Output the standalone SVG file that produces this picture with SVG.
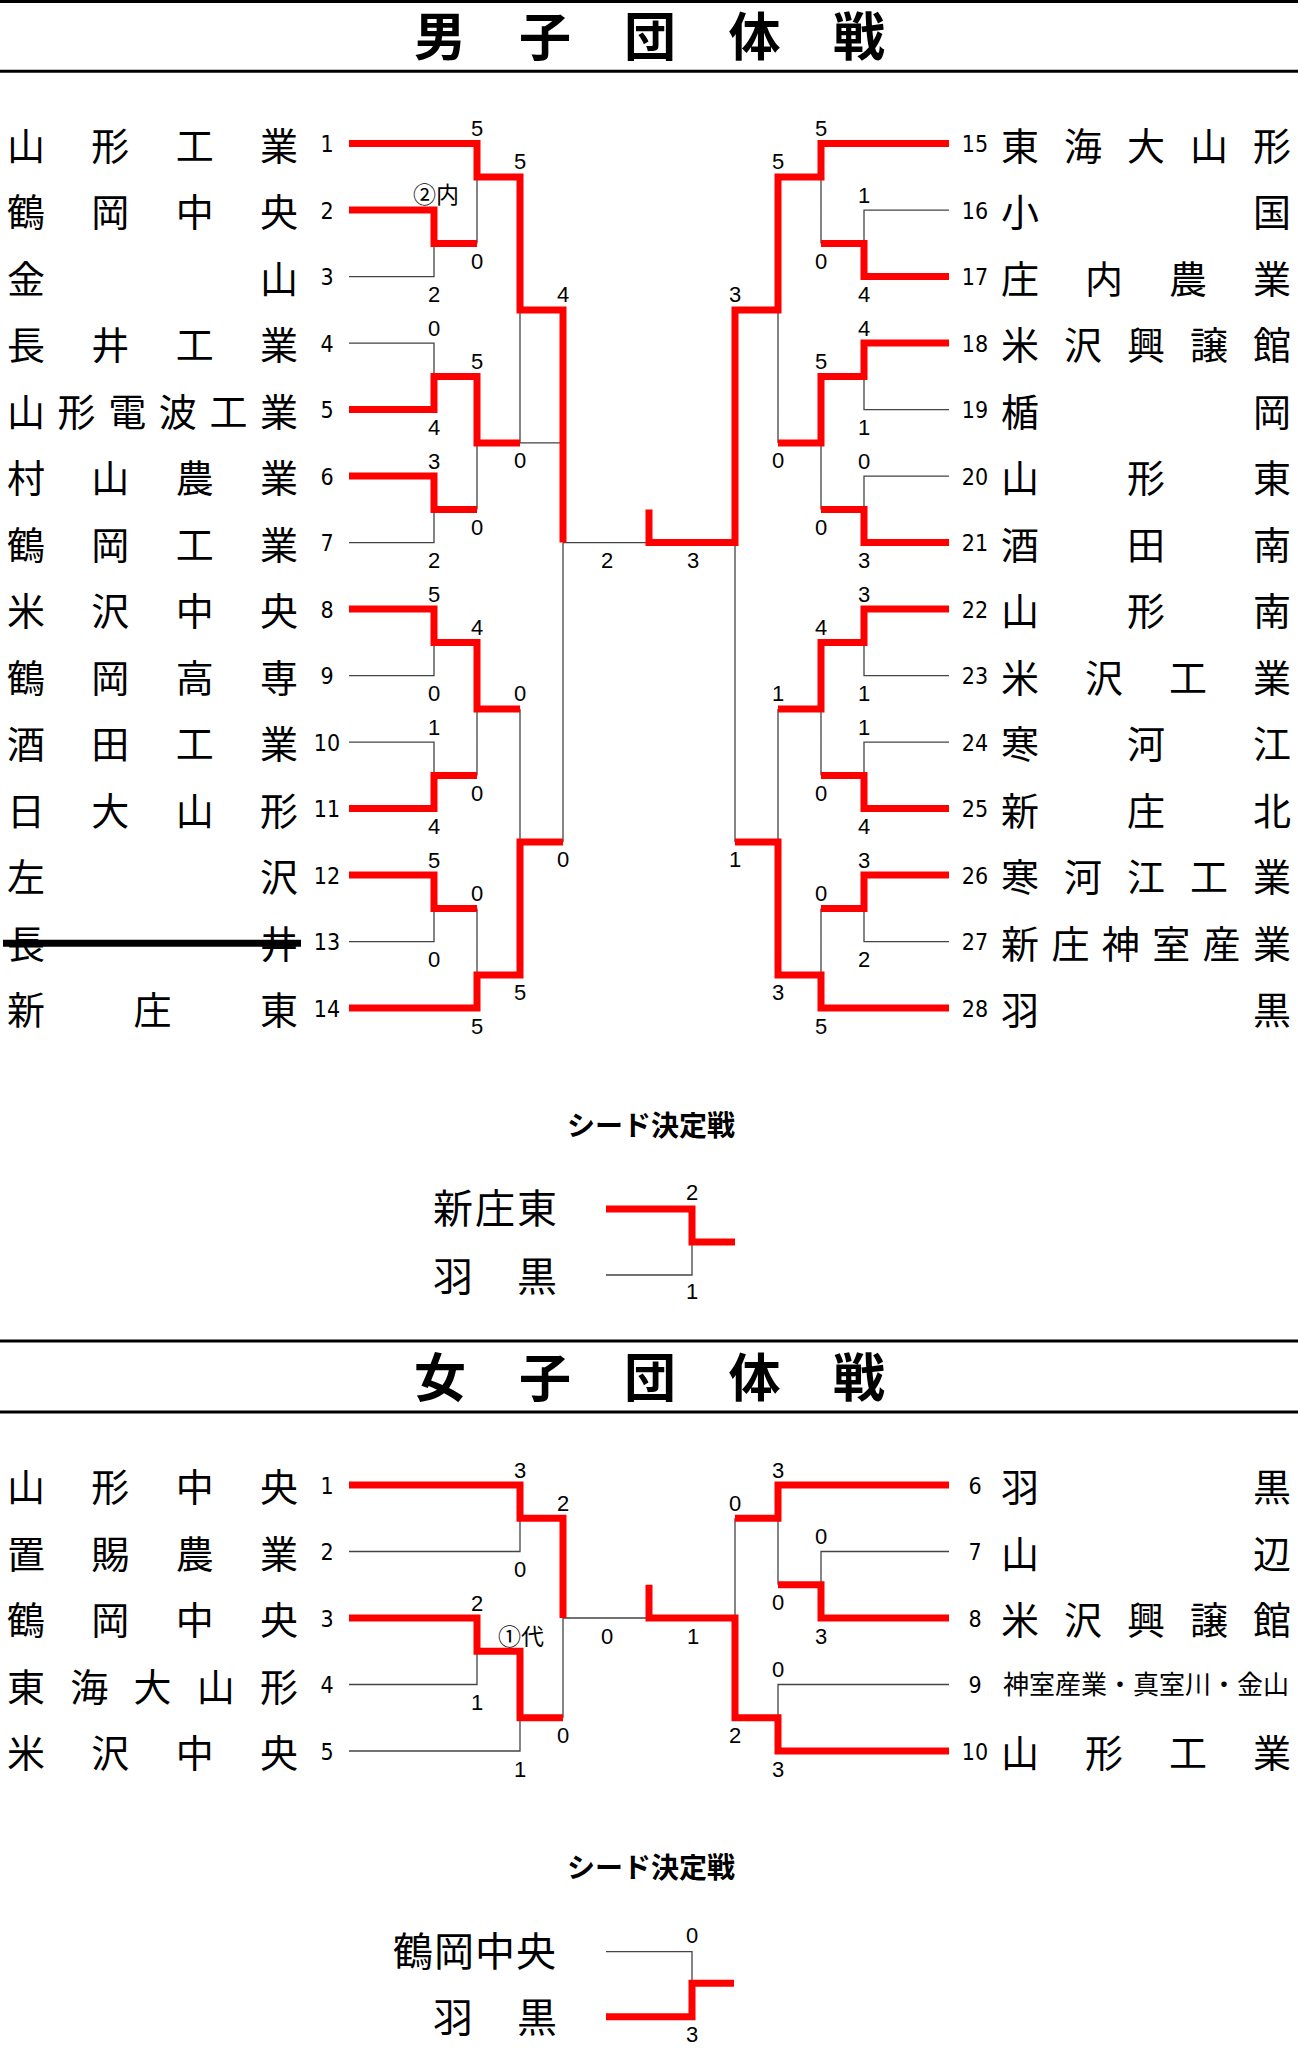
<svg xmlns="http://www.w3.org/2000/svg" width="1298" height="2048" viewBox="0 0 1298 2048">
<style>
.bg{fill:#fff}
.name{font-family:"Noto Sans CJK JP","Noto Sans CJK SC",sans-serif;font-size:38px;fill:#000}
.seedname{font-family:"Noto Sans CJK JP","Noto Sans CJK SC",sans-serif;font-size:40px;fill:#000}
.small{font-family:"Noto Sans CJK JP","Noto Sans CJK SC",sans-serif;font-size:26px;fill:#000}
.num{font-family:"Liberation Sans Narrow","DejaVu Sans Condensed","Liberation Sans",sans-serif;font-size:23px;text-anchor:middle;fill:#000}
.sc{font-family:"Liberation Sans","Noto Sans CJK JP",sans-serif;font-size:22px;text-anchor:middle;fill:#000}
.scj{font-family:"Noto Sans CJK JP",sans-serif;font-size:23px;text-anchor:middle;fill:#000}
.title{font-family:"Noto Sans CJK JP","Noto Sans CJK SC",sans-serif;font-weight:700;font-size:52px;fill:#000}
.sub{font-family:"Noto Sans CJK JP","Noto Sans CJK SC",sans-serif;font-weight:700;font-size:28px;fill:#000;text-anchor:middle}
.red{fill:none;stroke:#ff0000;stroke-width:7;stroke-linejoin:miter}
.thin{fill:none;stroke:#444;stroke-width:1.3}
.rule{stroke:#000;stroke-width:3}
.strike{stroke:#000;stroke-width:7}
</style>
<rect class="bg" x="0" y="0" width="1298" height="2048"/>

<g id="title-men">
<line class="rule" x1="0" y1="1.5" x2="1298" y2="1.5"/>
<line class="rule" x1="0" y1="71.3" x2="1298" y2="71.3"/>
<text class="title" x="414 519 624 728.5 833" y="56">男子団体戦</text>
</g>

<g id="men-left-teams">
<g id="m1"><text class="name" x="7 91.3 175.7 260" y="159.6">山形工業</text><text class="num" x="327" y="152.1">1</text></g>
<g id="m2"><text class="name" x="7 91.3 175.7 260" y="226.1">鶴岡中央</text><text class="num" x="327" y="218.6">2</text></g>
<g id="m3"><text class="name" x="7 260" y="292.6">金山</text><text class="num" x="327" y="285.1">3</text></g>
<g id="m4"><text class="name" x="7 91.3 175.7 260" y="359.1">長井工業</text><text class="num" x="327" y="351.6">4</text></g>
<g id="m5"><text class="name" x="7 57.6 108.2 158.8 209.4 260" y="425.6">山形電波工業</text><text class="num" x="327" y="418.1">5</text></g>
<g id="m6"><text class="name" x="7 91.3 175.7 260" y="492.1">村山農業</text><text class="num" x="327" y="484.6">6</text></g>
<g id="m7"><text class="name" x="7 91.3 175.7 260" y="558.6">鶴岡工業</text><text class="num" x="327" y="551.1">7</text></g>
<g id="m8"><text class="name" x="7 91.3 175.7 260" y="625.1">米沢中央</text><text class="num" x="327" y="617.6">8</text></g>
<g id="m9"><text class="name" x="7 91.3 175.7 260" y="691.6">鶴岡高専</text><text class="num" x="327" y="684.1">9</text></g>
<g id="m10"><text class="name" x="7 91.3 175.7 260" y="758.1">酒田工業</text><text class="num" x="327" y="750.6">10</text></g>
<g id="m11"><text class="name" x="7 91.3 175.7 260" y="824.6">日大山形</text><text class="num" x="327" y="817.1">11</text></g>
<g id="m12"><text class="name" x="7 260" y="891.1">左沢</text><text class="num" x="327" y="883.6">12</text></g>
<g id="m13"><text class="name" x="7 260" y="957.6">長井</text><line class="strike" x1="3" y1="943.3" x2="301" y2="943.3"/><text class="num" x="327" y="950.1">13</text></g>
<g id="m14"><text class="name" x="7 133.5 260" y="1024.1">新庄東</text><text class="num" x="327" y="1016.6">14</text></g>
</g>

<g id="men-right-teams">
<g id="m15"><text class="num" x="975" y="152.1">15</text><text class="name" x="1001 1064 1127 1190 1253" y="159.6">東海大山形</text></g>
<g id="m16"><text class="num" x="975" y="218.6">16</text><text class="name" x="1001 1253" y="226.1">小国</text></g>
<g id="m17"><text class="num" x="975" y="285.1">17</text><text class="name" x="1001 1085 1169 1253" y="292.6">庄内農業</text></g>
<g id="m18"><text class="num" x="975" y="351.6">18</text><text class="name" x="1001 1064 1127 1190 1253" y="359.1">米沢興譲館</text></g>
<g id="m19"><text class="num" x="975" y="418.1">19</text><text class="name" x="1001 1253" y="425.6">楯岡</text></g>
<g id="m20"><text class="num" x="975" y="484.6">20</text><text class="name" x="1001 1127 1253" y="492.1">山形東</text></g>
<g id="m21"><text class="num" x="975" y="551.1">21</text><text class="name" x="1001 1127 1253" y="558.6">酒田南</text></g>
<g id="m22"><text class="num" x="975" y="617.6">22</text><text class="name" x="1001 1127 1253" y="625.1">山形南</text></g>
<g id="m23"><text class="num" x="975" y="684.1">23</text><text class="name" x="1001 1085 1169 1253" y="691.6">米沢工業</text></g>
<g id="m24"><text class="num" x="975" y="750.6">24</text><text class="name" x="1001 1127 1253" y="758.1">寒河江</text></g>
<g id="m25"><text class="num" x="975" y="817.1">25</text><text class="name" x="1001 1127 1253" y="824.6">新庄北</text></g>
<g id="m26"><text class="num" x="975" y="883.6">26</text><text class="name" x="1001 1064 1127 1190 1253" y="891.1">寒河江工業</text></g>
<g id="m27"><text class="num" x="975" y="950.1">27</text><text class="name" x="1001 1051.4 1101.8 1152.2 1202.6 1253" y="957.6">新庄神室産業</text></g>
<g id="m28"><text class="num" x="975" y="1016.6">28</text><text class="name" x="1001 1253" y="1024.1">羽黒</text></g>
</g>

<g id="connectors">
<!-- men left -->
<path class="thin" d="M349,276.6 H434 V243.4 M477,176.9 V243.4 M349,343.1 H434 V376.4 M349,542.6 H434 V509.4 M477,442.9 V509.4 M520,309.9 V442.9 H563 M349,675.6 H434 V642.4 M349,742.1 H434 V775.4 M477,708.9 V775.4 M349,941.6 H434 V908.4 M477,908.4 V974.9 M520,708.9 V841.9 M563,542.6 V841.9 M563,542.6 H649"/>
<path class="red" d="M349,143.6 H477 V176.9 H520 V309.9 H563 V542.6"/>
<path class="red" d="M349,210.1 H434 V243.4 H477"/>
<path class="red" d="M349,409.6 H434 V376.4 H477 V442.9 H520"/>
<path class="red" d="M349,476.1 H434 V509.4 H477"/>
<path class="red" d="M349,609.1 H434 V642.4 H477 V708.9 H520"/>
<path class="red" d="M349,808.6 H434 V775.4 H477"/>
<path class="red" d="M349,875.1 H434 V908.4 H477"/>
<path class="red" d="M349,1008.1 H477 V974.9 H520 V841.9 H563"/>
<!-- men right -->
<path class="thin" d="M949,210.1 H864 V243.4 M821,176.9 V243.4 M949,409.6 H864 V376.4 M949,476.1 H864 V509.4 M821,442.9 V509.4 M778,309.9 V442.9 M949,675.6 H864 V642.4 M949,742.1 H864 V775.4 M821,708.9 V775.4 M949,941.6 H864 V908.4 M821,908.4 V974.9 M778,708.9 V841.9 M735,542.6 V841.9"/>
<path class="red" d="M949,143.6 H821 V176.9 H778 V309.9 H735 V542.6 H649 V509.4"/>
<path class="red" d="M949,276.6 H864 V243.4 H821"/>
<path class="red" d="M949,343.1 H864 V376.4 H821 V442.9 H778"/>
<path class="red" d="M949,542.6 H864 V509.4 H821"/>
<path class="red" d="M949,609.1 H864 V642.4 H821 V708.9 H778"/>
<path class="red" d="M949,808.6 H864 V775.4 H821"/>
<path class="red" d="M949,875.1 H864 V908.4 H821"/>
<path class="red" d="M949,1008.1 H821 V974.9 H778 V841.9 H735"/>
<!-- men seed decision -->
<path class="thin" d="M606,1275 H692 V1242"/>
<path class="red" d="M606,1209 H692 V1242 H735"/>
<!-- women -->
<path class="thin" d="M349,1551.5 H520 V1518.3 M349,1684.5 H477 V1651.3 M349,1751 H520 V1717.8 M563,1618 V1717.8 M563,1618 H649 M949,1684.5 H778 V1717.8 M735,1518.3 V1618 M949,1551.5 H821 V1584.8 M778,1518.3 V1584.8"/>
<path class="red" d="M349,1485 H520 V1518.3 H563 V1618"/>
<path class="red" d="M349,1618 H477 V1651.3 H520 V1717.8 H563"/>
<path class="red" d="M649,1584.8 V1618 H735 V1717.8 H778 V1751 H949"/>
<path class="red" d="M949,1485 H778 V1518.3 H735"/>
<path class="red" d="M949,1618 H821 V1584.8 H778"/>
<!-- women seed decision -->
<path class="thin" d="M606,1951.7 H692 V1983.3"/>
<path class="red" d="M606,2016.7 H692 V1983.3 H734"/>
</g>

<g id="scores">
<text class="scj" x="436" y="203">②内</text>
<text class="sc" x="434" y="302.1">2</text>
<text class="sc" x="477" y="136.1">5</text>
<text class="sc" x="477" y="268.9">0</text>
<text class="sc" x="434" y="335.6">0</text>
<text class="sc" x="434" y="435.1">4</text>
<text class="sc" x="477" y="368.9">5</text>
<text class="sc" x="477" y="534.9">0</text>
<text class="sc" x="434" y="468.6">3</text>
<text class="sc" x="434" y="568.1">2</text>
<text class="sc" x="520" y="169.4">5</text>
<text class="sc" x="520" y="468.4">0</text>
<text class="sc" x="563" y="302.4">4</text>
<text class="sc" x="563" y="867.4">0</text>
<text class="sc" x="434" y="601.6">5</text>
<text class="sc" x="434" y="701.1">0</text>
<text class="sc" x="477" y="634.9">4</text>
<text class="sc" x="477" y="800.9">0</text>
<text class="sc" x="434" y="734.6">1</text>
<text class="sc" x="434" y="834.1">4</text>
<text class="sc" x="520" y="701.4">0</text>
<text class="sc" x="520" y="1000.4">5</text>
<text class="sc" x="434" y="867.6">5</text>
<text class="sc" x="434" y="967.1">0</text>
<text class="sc" x="477" y="900.9">0</text>
<text class="sc" x="477" y="1033.6">5</text>
<text class="sc" x="607" y="568.1">2</text>
<text class="sc" x="693" y="568.1">3</text>
<text class="sc" x="864" y="202.6">1</text>
<text class="sc" x="864" y="302.1">4</text>
<text class="sc" x="821" y="136.1">5</text>
<text class="sc" x="821" y="268.9">0</text>
<text class="sc" x="864" y="335.6">4</text>
<text class="sc" x="864" y="435.1">1</text>
<text class="sc" x="864" y="468.6">0</text>
<text class="sc" x="864" y="568.1">3</text>
<text class="sc" x="821" y="368.9">5</text>
<text class="sc" x="821" y="534.9">0</text>
<text class="sc" x="778" y="169.4">5</text>
<text class="sc" x="778" y="468.4">0</text>
<text class="sc" x="735" y="302.4">3</text>
<text class="sc" x="735" y="867.4">1</text>
<text class="sc" x="864" y="601.6">3</text>
<text class="sc" x="864" y="701.1">1</text>
<text class="sc" x="864" y="734.6">1</text>
<text class="sc" x="864" y="834.1">4</text>
<text class="sc" x="821" y="634.9">4</text>
<text class="sc" x="821" y="800.9">0</text>
<text class="sc" x="864" y="867.6">3</text>
<text class="sc" x="864" y="967.1">2</text>
<text class="sc" x="821" y="900.9">0</text>
<text class="sc" x="821" y="1033.6">5</text>
<text class="sc" x="778" y="701.4">1</text>
<text class="sc" x="778" y="1000.4">3</text>
<text class="sc" x="692" y="1200">2</text>
<text class="sc" x="692" y="1299">1</text>
<text class="sc" x="520" y="1477.5">3</text>
<text class="sc" x="520" y="1577">0</text>
<text class="sc" x="477" y="1610.5">2</text>
<text class="sc" x="477" y="1710">1</text>
<text class="scj" x="521" y="1645">①代</text>
<text class="sc" x="520" y="1776.5">1</text>
<text class="sc" x="563" y="1510.8">2</text>
<text class="sc" x="563" y="1743.3">0</text>
<text class="sc" x="607" y="1643.5">0</text>
<text class="sc" x="693" y="1643.5">1</text>
<text class="sc" x="778" y="1477.5">3</text>
<text class="sc" x="778" y="1610.3">0</text>
<text class="sc" x="821" y="1544">0</text>
<text class="sc" x="821" y="1643.5">3</text>
<text class="sc" x="735" y="1510.8">0</text>
<text class="sc" x="735" y="1743.3">2</text>
<text class="sc" x="778" y="1677">0</text>
<text class="sc" x="778" y="1776.5">3</text>
<text class="sc" x="692" y="1943">0</text>
<text class="sc" x="692" y="2042">3</text>
</g>

<g id="seed-men">
<text class="sub" x="651" y="1136">シード決定戦</text>
<g id="s1"><text class="seedname" x="433 475 517" y="1223">新庄東</text></g>
<g id="s2"><text class="seedname" x="433 517" y="1290.5">羽黒</text></g>
</g>

<g id="title-women">
<line class="rule" x1="0" y1="1341" x2="1298" y2="1341"/>
<line class="rule" x1="0" y1="1412" x2="1298" y2="1412"/>
<text class="title" x="414 519 624 728.5 833" y="1396.5">女子団体戦</text>
</g>

<g id="women-left-teams">
<g id="w1"><text class="name" x="7 91.3 175.7 260" y="1501">山形中央</text><text class="num" x="327" y="1493.5">1</text></g>
<g id="w2"><text class="name" x="7 91.3 175.7 260" y="1567.5">置賜農業</text><text class="num" x="327" y="1560">2</text></g>
<g id="w3"><text class="name" x="7 91.3 175.7 260" y="1634">鶴岡中央</text><text class="num" x="327" y="1626.5">3</text></g>
<g id="w4"><text class="name" x="7 70.3 133.5 196.8 260" y="1700.5">東海大山形</text><text class="num" x="327" y="1693">4</text></g>
<g id="w5"><text class="name" x="7 91.3 175.7 260" y="1767">米沢中央</text><text class="num" x="327" y="1759.5">5</text></g>
</g>

<g id="women-right-teams">
<g id="w6"><text class="num" x="975" y="1493.5">6</text><text class="name" x="1001 1253" y="1501">羽黒</text></g>
<g id="w7"><text class="num" x="975" y="1560">7</text><text class="name" x="1001 1253" y="1567.5">山辺</text></g>
<g id="w8"><text class="num" x="975" y="1626.5">8</text><text class="name" x="1001 1064 1127 1190 1253" y="1634">米沢興譲館</text></g>
<g id="w9"><text class="num" x="975" y="1693">9</text><text class="small" x="1003" y="1694" textLength="286" lengthAdjust="spacingAndGlyphs">神室産業・真室川・金山</text></g>
<g id="w10"><text class="num" x="975" y="1759.5">10</text><text class="name" x="1001 1085 1169 1253" y="1767">山形工業</text></g>
</g>

<g id="seed-women">
<text class="sub" x="651" y="1878">シード決定戦</text>
<g id="s3"><text class="seedname" x="393 434 475 516" y="1965.5">鶴岡中央</text></g>
<g id="s4"><text class="seedname" x="433 517" y="2032">羽黒</text></g>
</g>
</svg>
